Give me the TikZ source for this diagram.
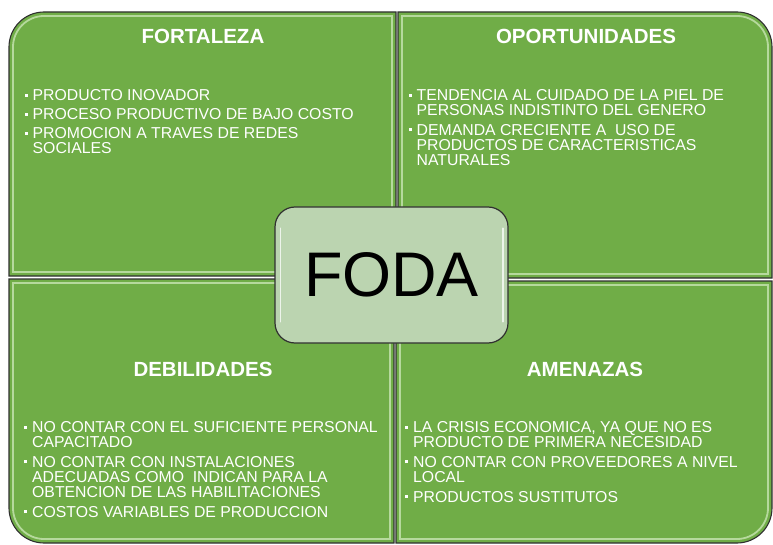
\documentclass[tikz,border=0pt]{standalone}
\usepackage{fontspec}
\setmainfont{Liberation Sans}
\definecolor{qgreen}{HTML}{70AD47}
\definecolor{hl}{HTML}{D4ECC2}
\definecolor{cbox}{HTML}{BBD4B0}
\definecolor{edge}{HTML}{303030}
\newcommand\bul{\makebox[8pt][l]{\raisebox{4pt}{\rule{3pt}{3pt}}}}
\newcommand\ind{\hspace*{8pt}}
\begin{document}
\begin{tikzpicture}[x=1pt,y=-1pt,
  quad/.style={fill=qgreen,draw=edge,line width=1.1pt},
  shine/.style={draw=hl,line width=1.8pt,opacity=0.7},
  head/.style={text=white,inner sep=0pt,font=\fontsize{20.5}{20.5}\selectfont\bfseries},
  items/.style={text=white,inner sep=0pt,anchor=north west,align=left,font=\fontsize{15.8}{15.2}\selectfont},
  centerbox/.style={fill=cbox,draw=edge,line width=1.2pt,rounded corners=20pt,minimum width=233pt,minimum height=136pt,inner sep=0pt,font=\fontsize{63}{63}\selectfont}]
\useasboundingbox (0,0) rectangle (773,545);
% quadrants
\path[quad] (9,276) -- (9,47) .. controls (9,27.7) and (24.7,12) .. (44,12) -- (396,12) -- (396,276) -- cycle;
\path[quad] (398,12) -- (737,12) .. controls (756.3,12) and (772,27.7) .. (772,47) -- (772,278) -- (398,278) -- cycle;
\path[quad] (9,279) -- (394,279) -- (394,543) -- (44,543) .. controls (24.7,543) and (9,527.3) .. (9,508) -- cycle;
\path[quad] (396,281) -- (772,281) -- (772,508) .. controls (772,527.3) and (756.3,543) .. (737,543) -- (396,543) -- cycle;
% highlights
\path[shine] (13,272) -- (13,47) .. controls (13,30) and (27,16) .. (44,16) -- (392,16) -- (392,272) -- cycle;
\path[shine] (402,16) -- (737,16) .. controls (754,16) and (768,30) .. (768,47) -- (768,274) -- (402,274) -- cycle;
\path[shine] (13,283) -- (390,283) -- (390,539) -- (44,539) .. controls (27,539) and (13,525) .. (13,508) -- cycle;
\path[shine] (400,285) -- (768,285) -- (768,508) .. controls (768,525) and (754,539) .. (737,539) -- (400,539) -- cycle;
% headings
\node[head] (hf) at (203,36) {FORTALEZA};
\node[head] (ho) at (586,36) {OPORTUNIDADES};
\node[head] (hd) at (203,369) {DEBILIDADES};
\node[head] (ha) at (585,369) {AMENAZAS};
% lists
\node[items] (lf) at (24.5,89.5) {\bul PRODUCTO INOVADOR\\[3.8pt]
\bul PROCESO PRODUCTIVO DE BAJO COSTO\\[3.8pt]
\bul PROMOCION A TRAVES DE REDES\\
\ind SOCIALES};
\node[items] (lo) at (408.5,89.5) {\bul TENDENCIA AL CUIDADO DE LA PIEL DE\\
\ind PERSONAS INDISTINTO DEL GENERO\\[4.3pt]
\bul DEMANDA CRECIENTE A\ \ USO DE\\
\ind PRODUCTOS DE CARACTERISTICAS\\
\ind NATURALES};
\node[items] (ld) at (24,421.5) {\bul NO CONTAR CON EL SUFICIENTE PERSONAL\\
\ind CAPACITADO\\[4.3pt]
\bul NO CONTAR CON INSTALACIONES\\
\ind ADECUADAS COMO\ \ INDICAN PARA LA\\
\ind OBTENCION DE LAS HABILITACIONES\\[4.3pt]
\bul COSTOS VARIABLES DE PRODUCCION};
\node[items] (la) at (405,421.5) {\bul LA CRISIS ECONOMICA, YA QUE NO ES\\
\ind PRODUCTO DE PRIMERA NECESIDAD\\[4.3pt]
\bul NO CONTAR CON PROVEEDORES A NIVEL\\
\ind LOCAL\\[4.3pt]
\bul PRODUCTOS SUSTITUTOS};
% center
\node[centerbox] (foda) at (391.5,275) {FODA};
\draw[white,opacity=0.75,line width=1.8pt,line cap=round] ([shift={(6,-22)}]foda.south west) -- ([shift={(6,22)}]foda.north west);
\draw[white,opacity=0.75,line width=1.8pt,line cap=round] ([shift={(-6,-22)}]foda.south east) -- ([shift={(-6,22)}]foda.north east);
\end{tikzpicture}
\end{document}
